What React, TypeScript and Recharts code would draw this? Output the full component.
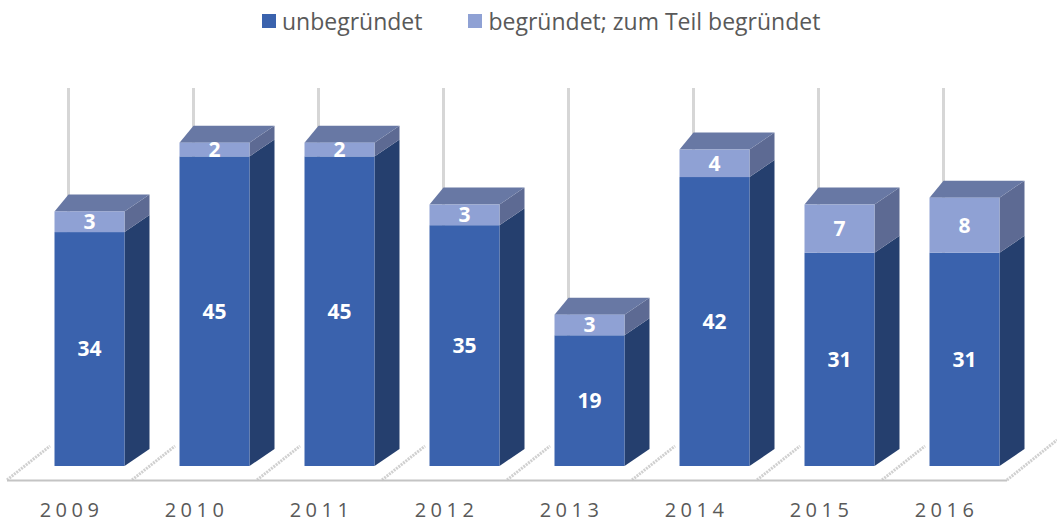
import React from 'react';
import { BarChart, Bar, XAxis, YAxis, LabelList } from 'recharts';

const years = ['2009', '2010', '2011', '2012', '2013', '2014', '2015', '2016'];
const unbegruendet = [34, 45, 45, 35, 19, 42, 31, 31];
const begruendet = [3, 2, 2, 3, 3, 4, 7, 8];

const data = years.map((year, i) => ({
  year,
  unbegruendet: unbegruendet[i],
  begruendet: begruendet[i],
}));

const W = 1057;
const H = 525;
const MARGIN = { top: 122, right: 30.5, left: 26.5, bottom: 0 };
const AXIS_H = 59;
const PLOT_TOP = MARGIN.top;
const PLOT_BOTTOM = H - AXIS_H;

// 3D offsets for the box faces
const BACK_L = { dx: 14, dy: -17 };
const BACK_R = { dx: 25, dy: -17 };

const COLORS = {
  darkFront: '#3A62AD',
  darkSide: '#253F6E',
  lightFront: '#8FA1D4',
  lightSide: '#5D6A93',
  lightTop: '#6878A4',
  grid: '#D6D6D6',
  text: '#595959',
  floor: '#C4C4C4',
};

type ShapeProps = { x?: number; y?: number; width?: number; height?: number; index?: number };

const BottomBox = (props: ShapeProps) => {
  const { x = 0, y = 0, width = 0, height = 0 } = props;
  const r = x + width;
  const b = y + height;
  return (
    <g>
      <line
        x1={x + BACK_L.dx}
        x2={x + BACK_L.dx}
        y1={PLOT_TOP - 34}
        y2={b + BACK_L.dy}
        stroke={COLORS.grid}
        strokeWidth={3}
      />
      <polygon
        points={`${r},${y} ${r + BACK_R.dx},${y + BACK_R.dy} ${r + BACK_R.dx},${b + BACK_R.dy} ${r},${b}`}
        fill={COLORS.darkSide}
      />
      <rect x={x} y={y} width={width} height={height} fill={COLORS.darkFront} />
    </g>
  );
};

const TopBox = (props: ShapeProps) => {
  const { x = 0, y = 0, width = 0, height = 0 } = props;
  const r = x + width;
  const b = y + height;
  return (
    <g>
      <polygon
        points={`${r},${y} ${r + BACK_R.dx},${y + BACK_R.dy} ${r + BACK_R.dx},${b + BACK_R.dy} ${r},${b}`}
        fill={COLORS.lightSide}
      />
      <polygon
        points={`${x},${y} ${x + BACK_L.dx},${y + BACK_L.dy} ${r + BACK_R.dx},${y + BACK_R.dy} ${r},${y}`}
        fill={COLORS.lightTop}
      />
      <rect x={x} y={y} width={width} height={height} fill={COLORS.lightFront} />
    </g>
  );
};

const BAND = 125;
const FLOOR_Y = PLOT_BOTTOM + 14;

const YearTick = (props: any) => {
  const { x, payload, index } = props;
  const cx = x - 19.5;
  const left = cx - BAND / 2;
  const last = index === years.length - 1;
  return (
    <g>
      <line x1={left} y1={FLOOR_Y} x2={left + 43} y2={FLOOR_Y - 34} stroke="#D0D0D0" strokeWidth={3} strokeDasharray="2 1" />
      {last && (
        <line x1={left + BAND} y1={FLOOR_Y} x2={left + BAND + 50} y2={FLOOR_Y - 40} stroke="#D0D0D0" strokeWidth={3} strokeDasharray="2 1" />
      )}
      <line x1={left} y1={FLOOR_Y + 0.5} x2={left + BAND} y2={FLOOR_Y + 0.5} stroke={COLORS.floor} strokeWidth={2} />
      <text
        x={cx + 2}
        y={PLOT_BOTTOM + 51}
        textAnchor="middle"
        fill={COLORS.text}
        fontSize={20}
        letterSpacing={4.5}
        fontFamily="'Open Sans', sans-serif"
      >
        {payload.value}
      </text>
    </g>
  );
};

const legendItems = [
  { label: 'unbegründet', color: COLORS.darkFront },
  { label: 'begründet; zum Teil begründet', color: COLORS.lightFront },
];

const ChartLegend = () => (
  <div
    style={{
      position: 'absolute',
      top: 5,
      left: 262,
      display: 'flex',
      gap: 46,
      fontFamily: "'Open Sans', sans-serif",
      fontSize: 23,
      color: COLORS.text,
      whiteSpace: 'nowrap',
    }}
  >
    {legendItems.map((item) => (
      <div key={item.label} style={{ display: 'flex', alignItems: 'center', gap: 6 }}>
        <span style={{ width: 14, height: 14, background: item.color, display: 'inline-block' }} />
        <span>{item.label}</span>
      </div>
    ))}
  </div>
);

const labelStyle = { fill: '#FFFFFF', fontSize: 21, fontWeight: 700, fontFamily: "'Open Sans', sans-serif" };

export default function App() {
  return (
    <div style={{ position: 'absolute', left: 0, top: 0, width: W, height: H, background: '#fff' }}>
      <BarChart width={W} height={H} data={data} margin={MARGIN} barSize={70}>
        <XAxis
          dataKey="year"
          axisLine={false}
          tickLine={false}
          height={AXIS_H}
          interval={0}
          tick={<YearTick />}
        />
        <YAxis hide domain={[0, 50]} />
        <Bar dataKey="unbegruendet" stackId="a" shape={<BottomBox />} isAnimationActive={false}>
          <LabelList dataKey="unbegruendet" position="center" style={labelStyle} />
        </Bar>
        <Bar dataKey="begruendet" stackId="a" shape={<TopBox />} isAnimationActive={false}>
          <LabelList dataKey="begruendet" position="center" style={labelStyle} />
        </Bar>
      </BarChart>
      <ChartLegend />
    </div>
  );
}
